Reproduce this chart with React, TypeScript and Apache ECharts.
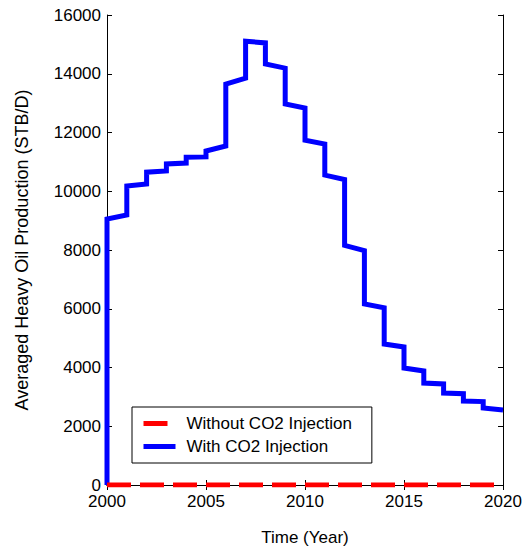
import React, { useEffect, useRef } from "react";
import * as echarts from "echarts";

// Yearly production steps: rate at the start and end of each year (STB/D)
const years = [2000, 2001, 2002, 2003, 2004, 2005, 2006, 2007, 2008, 2009, 2010, 2011, 2012, 2013, 2014, 2015, 2016, 2017, 2018, 2019];
const withStartRates = [9050, 10180, 10650, 10930, 11160, 11370, 13650, 15110, 14330, 12970, 11740, 10550, 8160, 6160, 4800, 3980, 3470, 3130, 2860, 2620];
const withEndRates = [9190, 10250, 10690, 10960, 11170, 11540, 13850, 15050, 14190, 12830, 11610, 10400, 7980, 6030, 4700, 3880, 3440, 3110, 2840, 2550];
const withoutYears = [2000, 2020];
const withoutRates = [0, 0];

const xTicks = { min: 2000, max: 2020, interval: 5 };
const yTicks = { min: 0, max: 16000, interval: 2000 };

const FONT = "'Liberation Sans', Arial, sans-serif";

export default function App() {
  const ref = useRef<HTMLDivElement>(null);

  useEffect(() => {
    if (!ref.current) return;
    const chart = echarts.init(ref.current, undefined, { renderer: "svg" });

    const withData: number[][] = [[years[0], 0]];
    years.forEach((y, i) => {
      withData.push([y, withStartRates[i]]);
      withData.push([y + 1, withEndRates[i]]);
    });
    const withoutData = withoutYears.map((y, i) => [y, withoutRates[i]]);

    const frameAxis = {
      axisLine: { show: true, lineStyle: { color: "#000", width: 1 } },
      axisTick: { show: true, inside: true, length: 5, lineStyle: { color: "#000" } },
      splitLine: { show: false },
    };
    const plain = (v: number) => String(v);

    chart.setOption({
      animation: false,
      textStyle: { fontFamily: FONT },
      grid: { left: 107, right: 26, top: 15, bottom: 66 },
      legend: {
        orient: "vertical",
        left: 132,
        top: 407,
        data: ["Without CO2 Injection", "With CO2 Injection"],
        backgroundColor: "#fff",
        borderColor: "#000",
        borderWidth: 1,
        padding: [8, 20, 8, 9],
        itemWidth: 32,
        itemHeight: 14,
        itemGap: 6,
        itemStyle: { opacity: 0 },
        lineStyle: { width: 5 },
        textStyle: { fontSize: 17, color: "#000", fontFamily: FONT, padding: [0, 0, 0, 6] },
      },
      xAxis: [
        {
          type: "value",
          ...xTicks,
          position: "bottom",
          ...frameAxis,
          axisLabel: { color: "#000", fontSize: 17, lineHeight: 17, fontFamily: FONT, margin: 8, formatter: plain },
          name: "Time (Year)",
          nameLocation: "middle",
          nameGap: 44,
          nameTextStyle: { color: "#000", fontSize: 17, fontFamily: FONT },
        },
        {
          type: "value",
          ...xTicks,
          position: "top",
          ...frameAxis,
          axisLabel: { show: false },
        },
      ],
      yAxis: [
        {
          type: "value",
          ...yTicks,
          position: "left",
          ...frameAxis,
          axisLabel: { color: "#000", fontSize: 17, lineHeight: 14, fontFamily: FONT, margin: 6, formatter: plain },
          name: "Averaged Heavy Oil Production (STB/D)",
          nameLocation: "middle",
          nameGap: 76,
          nameTextStyle: { color: "#000", fontSize: 18, fontFamily: FONT },
        },
        {
          type: "value",
          ...yTicks,
          position: "right",
          ...frameAxis,
          axisLabel: { show: false },
        },
      ],
      series: [
        {
          name: "With CO2 Injection",
          type: "line",
          data: withData,
          showSymbol: false,
          symbol: "none",
          lineStyle: { color: "#0000ff", width: 5, cap: "butt", join: "miter" },
          itemStyle: { color: "#0000ff" },
          z: 2,
        },
        {
          name: "Without CO2 Injection",
          type: "line",
          data: withoutData,
          showSymbol: false,
          symbol: "none",
          lineStyle: { color: "#ff0000", width: 5, type: [24, 9], cap: "butt" },
          itemStyle: { color: "#ff0000" },
          z: 3,
        },
      ],
    });

    return () => chart.dispose();
  }, []);

  return (
    <div
      ref={ref}
      style={{ position: "fixed", left: 0, top: 0, width: 529, height: 551, background: "#fff" }}
    />
  );
}
